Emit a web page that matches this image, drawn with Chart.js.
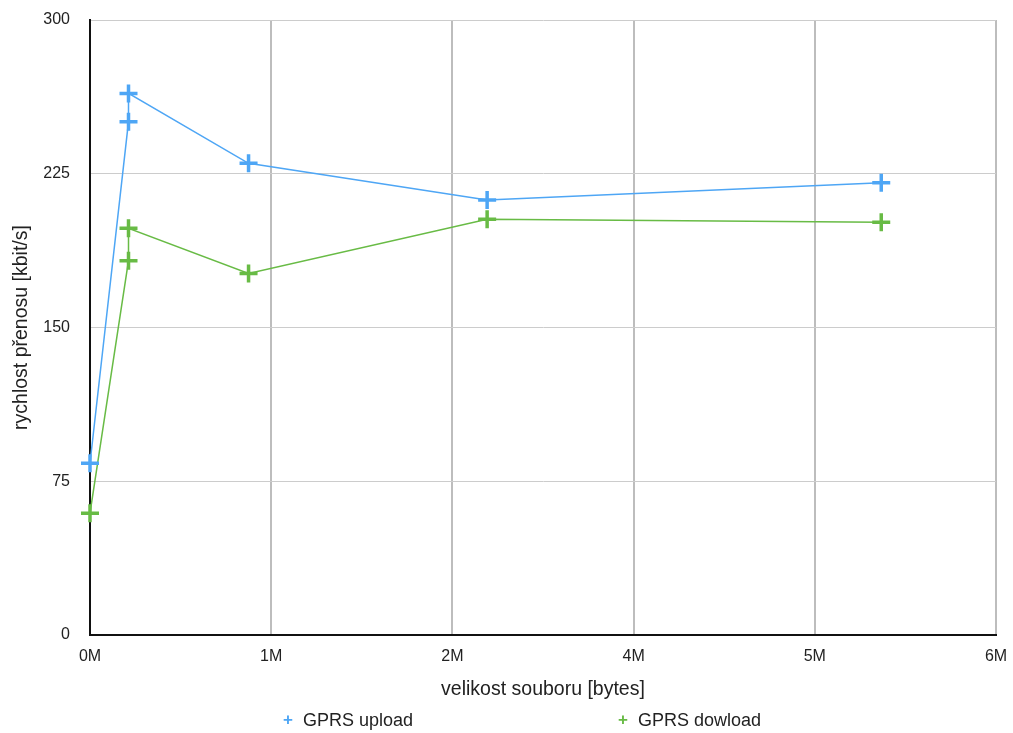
<!DOCTYPE html>
<html>
<head>
<meta charset="utf-8">
<title>GPRS</title>
<script src="https://cdn.jsdelivr.net/npm/chart.js@4"></script>
<style>
  body { margin: 0; background: #fff; font-family: "Liberation Sans", Arial, sans-serif; }
  #wrap { position: relative; width: 1013px; height: 733px; }
  #legend { position: absolute; left: 0; top: 710px; width: 1013px; height: 24px; font-size: 18px; color: #222; }
  #legend .item { position: absolute; top: 0; white-space: nowrap; }
  #legend .mark { display: inline-block; width: 20px; font-weight: bold; font-size: 17px; position: relative; top: -1px; }
</style>
</head>
<body>
<div id="wrap">
  <canvas id="chart" width="1013" height="733"></canvas>
  <div id="legend"></div>
</div>
<script>
// file sizes in bytes and measured speeds in kbit/s
const sizes = [0, 255000, 255000, 1050000, 2630000, 5240000];
const uploadSpeed = [83.8, 250.4, 264.2, 230.1, 212.2, 220.6];
const downloadSpeed = [59.4, 182.6, 198.4, 176.4, 202.8, 201.3];
const seriesNames = ["GPRS upload", "GPRS dowload"];
const seriesColors = ["#4ea6f5", "#68bb45"];
const yTicks = [0, 75, 150, 225, 300];
const xTicks = [0, 1200000, 2400000, 3600000, 4800000, 6000000];

function toPoints(ys) {
  return sizes.map((x, i) => ({ x: x, y: ys[i] }));
}

function makeSet(i, ys) {
  return {
    label: seriesNames[i],
    data: toPoints(ys),
    showLine: true,
    clip: false,
    borderColor: seriesColors[i],
    backgroundColor: seriesColors[i],
    borderWidth: 1.5,
    pointStyle: "cross",
    pointRadius: 9,
    pointBorderWidth: 3.5,
    pointHoverRadius: 9,
  };
}

const tickFont = { family: "'Liberation Sans', Arial, sans-serif", size: 16 };
const titleFont = { family: "'Liberation Sans', Arial, sans-serif", size: 19.5 };
const noTick = "rgba(0,0,0,0)";

new Chart(document.getElementById("chart").getContext("2d"), {
  type: "scatter",
  data: {
    datasets: [makeSet(0, uploadSpeed), makeSet(1, downloadSpeed)],
  },
  options: {
    responsive: false,
    animation: false,
    layout: { autoPadding: false, padding: { top: 20, right: 17, bottom: 32, left: 0 } },
    plugins: {
      legend: { display: false },
      tooltip: { enabled: false },
    },
    scales: {
      x: {
        type: "linear",
        min: 0,
        max: 6000000,
        afterBuildTicks: (scale) => {
          scale.ticks = xTicks.map((v) => ({ value: v }));
        },
        afterFit: (scale) => { scale.height = 66; },
        ticks: {
          color: "#222",
          font: tickFont,
          padding: 3,
          maxRotation: 0,
          callback: (v) => Math.round(v / 1000000) + "M",
        },
        grid: { color: "#bdbdbd", lineWidth: 2, tickLength: 9, tickColor: noTick },
        border: { color: "#111", width: 2 },
        title: {
          display: true,
          text: "velikost souboru [bytes]",
          color: "#222",
          font: titleFont,
          padding: { top: 6, bottom: 0 },
        },
      },
      y: {
        min: 0,
        max: 300,
        afterBuildTicks: (scale) => {
          scale.ticks = yTicks.map((v) => ({ value: v }));
        },
        afterFit: (scale) => { scale.width = 90; },
        ticks: { color: "#222", font: tickFont, padding: 3 },
        grid: { color: "#cccccc", lineWidth: 1, tickLength: 17, tickColor: noTick },
        border: { color: "#111", width: 2 },
        title: {
          display: true,
          text: "rychlost přenosu [kbit/s]",
          color: "#222",
          font: titleFont,
          padding: { top: 10, bottom: 0 },
        },
      },
    },
  },
});

// legend row under the chart
const legend = document.getElementById("legend");
const legendLeft = [283, 618];
seriesNames.forEach((name, i) => {
  const item = document.createElement("div");
  item.className = "item";
  item.style.left = legendLeft[i] + "px";
  const mark = document.createElement("span");
  mark.className = "mark";
  mark.style.color = seriesColors[i];
  mark.textContent = "+";
  item.appendChild(mark);
  item.appendChild(document.createTextNode(name));
  legend.appendChild(item);
});
</script>
</body>
</html>
